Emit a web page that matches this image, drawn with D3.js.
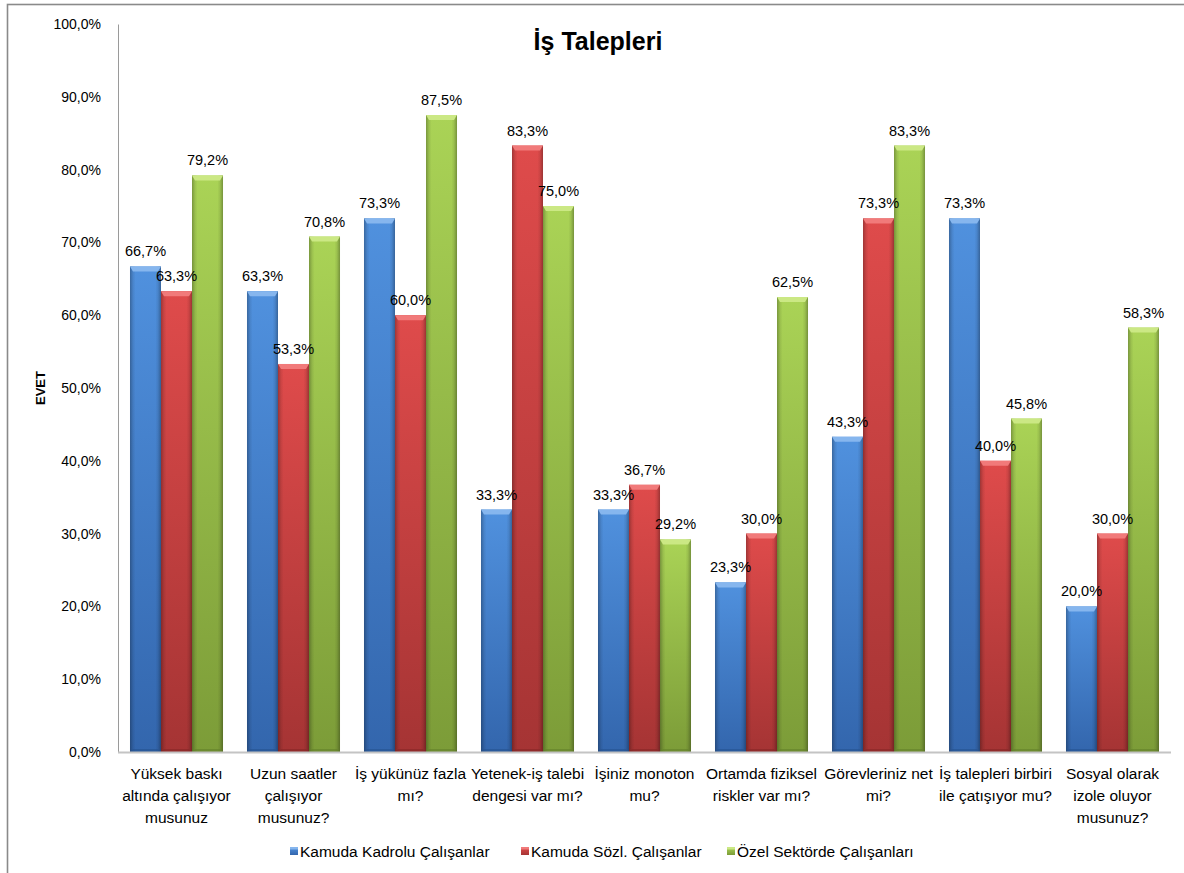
<!DOCTYPE html>
<html>
<head>
<meta charset="utf-8">
<script src="https://cdn.jsdelivr.net/npm/d3@7"></script>
<style>
  html, body { margin: 0; padding: 0; background: #fff; }
  svg { display: block; font-family: "Liberation Sans", Arial, sans-serif; }
</style>
</head>
<body>
<svg id="chart" width="1184" height="873"></svg>
<script>
// Survey answers ("EVET" share, %) for the work-demand questions
const categories = [
  ["Yüksek baskı", "altında çalışıyor", "musunuz"],
  ["Uzun saatler", "çalışıyor", "musunuz?"],
  ["İş yükünüz fazla", "mı?"],
  ["Yetenek-iş talebi", "dengesi var mı?"],
  ["İşiniz monoton", "mu?"],
  ["Ortamda fiziksel", "riskler var mı?"],
  ["Görevleriniz net", "mi?"],
  ["İş talepleri birbiri", "ile çatışıyor mu?"],
  ["Sosyal olarak", "izole oluyor", "musunuz?"]
];
const seriesNames = ["Kamuda Kadrolu Çalışanlar", "Kamuda Sözl. Çalışanlar", "Özel Sektörde Çalışanları"];
const kadrolu = [66.7, 63.3, 73.3, 33.3, 33.3, 23.3, 43.3, 73.3, 20.0];
const sozlesmeli = [63.3, 53.3, 60.0, 83.3, 36.7, 30.0, 73.3, 40.0, 30.0];
const ozel = [79.2, 70.8, 87.5, 75.0, 29.2, 62.5, 83.3, 45.8, 58.3];
const yTicks = [0, 10, 20, 30, 40, 50, 60, 70, 80, 90, 100];

const seriesValues = [kadrolu, sozlesmeli, ozel];
const palette = [
  { top: "#5091de", bottom: "#3366ad", bevel: "#86b6ee", edge: "#25528f" },
  { top: "#df4b4b", bottom: "#a53434", bevel: "#f17a7a", edge: "#852626" },
  { top: "#aad356", bottom: "#7c9c38", bevel: "#cbe884", edge: "#63802a" }
];

const svg = d3.select("#chart");
const fmt = v => v.toFixed(1).replace(".", ",") + "%";

const plot = { left: 118, right: 1171, top: 24, bottom: 752 };

const y = d3.scaleLinear().domain([0, 100]).range([plot.bottom, plot.top]);
const catIdx = d3.range(categories.length);
const x = d3.scaleBand().domain(catIdx).range([plot.left, plot.right])
  .paddingInner(0.205).paddingOuter(0.1025);
const xs = d3.scaleBand().domain([0, 1, 2]).range([0, x.bandwidth()]);

// gradients
const defs = svg.append("defs");
palette.forEach((c, i) => {
  const g = defs.append("linearGradient").attr("id", "fill" + i)
    .attr("x1", 0).attr("y1", 0).attr("x2", 0).attr("y2", 1);
  g.append("stop").attr("offset", "0%").attr("stop-color", c.top);
  g.append("stop").attr("offset", "100%").attr("stop-color", c.bottom);
});
const side = defs.append("linearGradient").attr("id", "sideShade")
  .attr("x1", 0).attr("y1", 0).attr("x2", 1).attr("y2", 0);
side.append("stop").attr("offset", "0%").attr("stop-color", "#000").attr("stop-opacity", 0.28);
side.append("stop").attr("offset", "10%").attr("stop-color", "#000").attr("stop-opacity", 0.08);
side.append("stop").attr("offset", "18%").attr("stop-color", "#000").attr("stop-opacity", 0);
side.append("stop").attr("offset", "82%").attr("stop-color", "#000").attr("stop-opacity", 0);
side.append("stop").attr("offset", "90%").attr("stop-color", "#000").attr("stop-opacity", 0.08);
side.append("stop").attr("offset", "100%").attr("stop-color", "#000").attr("stop-opacity", 0.3);

// outer frame
svg.append("rect").attr("x", 7.5).attr("y", 4.5).attr("width", 1190).attr("height", 880)
  .attr("fill", "none").attr("stroke", "#8a8a8a").attr("stroke-width", 1.6);

// title
svg.append("text").attr("x", 598).attr("y", 50).attr("text-anchor", "middle")
  .attr("font-size", 25).attr("font-weight", "bold").attr("fill", "#000").text("İş Talepleri");

// y axis
const yAxis = d3.axisLeft(y).tickValues(yTicks).tickSize(0).tickPadding(17)
  .tickFormat(d => d.toFixed(1).replace(".", ",") + "%");
const yg = svg.append("g").attr("transform", `translate(${plot.left},0)`).call(yAxis);
yg.select(".domain").attr("stroke", "#9a9a9a").attr("stroke-width", 1);
yg.selectAll("text").attr("font-size", 14).attr("fill", "#000")
  .attr("font-family", "'Liberation Sans', Arial, sans-serif");

svg.append("text").attr("transform", `translate(45,${(plot.top + plot.bottom) / 2}) rotate(-90)`)
  .attr("text-anchor", "middle").attr("font-size", 13).attr("font-weight", "bold").text("EVET");

// bars
const bevelH = 5, bevelIn = 3;
const groups = svg.append("g").selectAll("g").data(catIdx).join("g")
  .attr("transform", i => `translate(${x(i)},0)`);

seriesValues.forEach((vals, s) => {
  const c = palette[s];
  const bx = xs(s), bw = xs.bandwidth();
  groups.append("rect")
    .attr("x", bx).attr("width", bw)
    .attr("y", i => y(vals[i])).attr("height", i => y(0) - y(vals[i]))
    .attr("fill", `url(#fill${s})`);
  groups.append("rect")
    .attr("x", bx).attr("width", bw)
    .attr("y", i => y(vals[i])).attr("height", i => y(0) - y(vals[i]))
    .attr("fill", "url(#sideShade)");
  // top bevel
  groups.append("path")
    .attr("d", i => {
      const t = y(vals[i]);
      return `M${bx},${t}L${bx + bw},${t}L${bx + bw - bevelIn},${t + bevelH}L${bx + bevelIn},${t + bevelH}Z`;
    })
    .attr("fill", c.bevel);
  // bottom bevel
  groups.append("path")
    .attr("d", () => {
      const b = y(0);
      return `M${bx},${b}L${bx + bw},${b}L${bx + bw - bevelIn},${b - 3}L${bx + bevelIn},${b - 3}Z`;
    })
    .attr("fill", c.edge).attr("opacity", 0.6);
});

// x axis line
svg.append("line").attr("x1", plot.left).attr("x2", plot.right)
  .attr("y1", plot.bottom + 0.5).attr("y2", plot.bottom + 0.5)
  .attr("stroke", "#c4c4c4").attr("stroke-width", 2);

// value labels
seriesValues.forEach((vals, s) => {
  groups.append("text")
    .attr("x", xs(s) + xs.bandwidth() / 2)
    .attr("y", i => y(vals[i]) - 10)
    .attr("text-anchor", "middle").attr("font-size", 14.5).attr("fill", "#000")
    .text(i => fmt(vals[i]));
});

// category labels
const catLabels = svg.append("g").selectAll("text").data(catIdx).join("text")
  .attr("x", i => x(i) + x.bandwidth() / 2)
  .attr("y", 779)
  .attr("text-anchor", "middle").attr("font-size", 15.5).attr("fill", "#000");
catLabels.selectAll("tspan").data(i => categories[i]).join("tspan")
  .attr("x", function () { return d3.select(this.parentNode).attr("x"); })
  .attr("dy", (d, k) => k === 0 ? 0 : 22)
  .text(d => d);

// legend
const legendX = [290, 521, 727];
const lg = svg.append("g").selectAll("g").data(seriesNames).join("g")
  .attr("transform", (d, i) => `translate(${legendX[i]},851)`);
lg.append("rect").attr("x", 0).attr("y", -4).attr("width", 8).attr("height", 8)
  .attr("fill", (d, i) => `url(#fill${i})`);
lg.append("rect").attr("x", 0).attr("y", -4).attr("width", 8).attr("height", 2.5)
  .attr("fill", (d, i) => palette[i].bevel);
lg.append("text").attr("x", 10).attr("y", 5.5).attr("font-size", 15.5).attr("fill", "#000").text(d => d);
</script>
</body>
</html>
